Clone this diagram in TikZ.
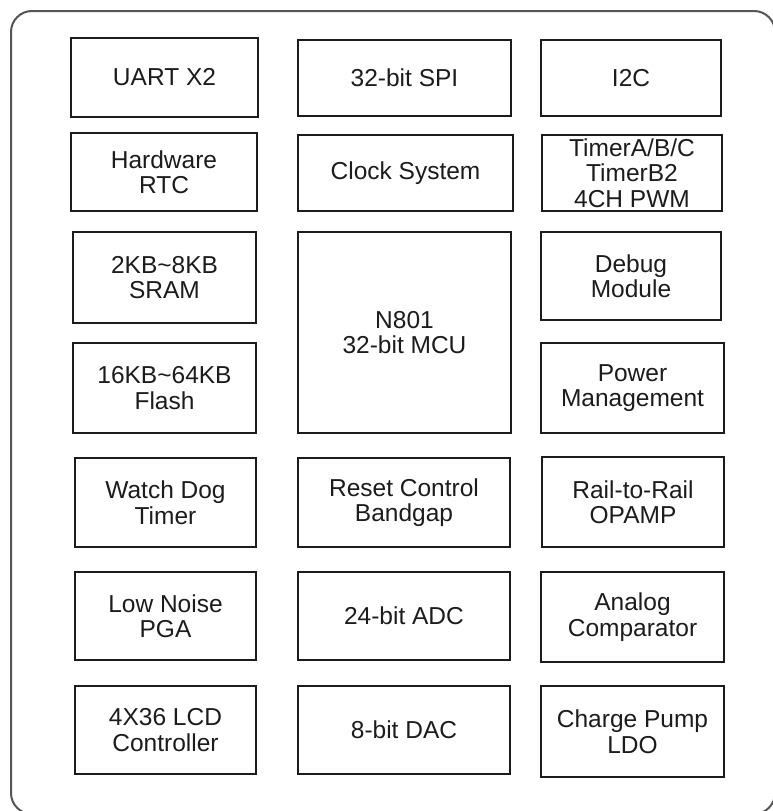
\documentclass[tikz,border=0pt]{standalone}
\usepackage{fontspec}
\setmainfont{Liberation Sans}
\definecolor{frame}{HTML}{555555}
\definecolor{ink}{HTML}{1C1C1C}
\begin{document}
\begin{tikzpicture}[x=1pt,y=-1pt,
  blk/.style={draw=ink, line width=1.4pt, rectangle, inner sep=0pt, align=center,
    text=ink, font=\fontsize{24.5}{25.5}\selectfont}]
\useasboundingbox (0,0) rectangle (773,811);
\fill[white] (0,0) rectangle (773,811);
\draw[frame, line width=2pt, rounded corners=21pt] (11,11) rectangle (775,814);
% column 1
\node[blk, minimum width=187pt, minimum height=79pt] (uart) at (164.5,77.5) {UART X2};
\node[blk, minimum width=186pt, minimum height=78pt] (rtc) at (164,172) {Hardware\\RTC};
\node[blk, minimum width=183pt, minimum height=91pt] (sram) at (164.5,277.5) {2KB\textasciitilde8KB\\SRAM};
\node[blk, minimum width=183pt, minimum height=90pt] (flash) at (164.5,388) {16KB\textasciitilde64KB\\Flash};
\node[blk, minimum width=181pt, minimum height=89pt] (wdt) at (165.5,502.5) {Watch Dog\\Timer};
\node[blk, minimum width=181pt, minimum height=88pt] (pga) at (165.5,616) {Low Noise\\PGA};
\node[blk, minimum width=181pt, minimum height=88pt] (lcd) at (165.5,730) {4X36 LCD\\Controller};
% column 2
\node[blk, minimum width=213pt, minimum height=76pt] (spi) at (404.5,78) {32-bit SPI};
\node[blk, minimum width=215pt, minimum height=76pt] (clk) at (405.5,173) {Clock System};
\node[blk, minimum width=213pt, minimum height=201pt] (mcu) at (404.5,332.5) {N801\\32-bit MCU};
\node[blk, minimum width=212pt, minimum height=89pt] (rst) at (404,502.5) {Reset Control\\Bandgap};
\node[blk, minimum width=212pt, minimum height=88pt] (adc) at (404,616) {24-bit ADC};
\node[blk, minimum width=212pt, minimum height=88pt] (dac) at (404,730) {8-bit DAC};
% column 3
\node[blk, minimum width=180pt, minimum height=76pt] (i2c) at (631,78) {I2C};
\node[blk, minimum width=180pt, minimum height=76pt] (tmr) at (632,173) {TimerA/B/C\\TimerB2\\4CH PWM};
\node[blk, minimum width=180pt, minimum height=88pt] (dbg) at (631,276) {Debug\\Module};
\node[blk, minimum width=183pt, minimum height=90pt] (pwr) at (632.5,388) {Power\\Management};
\node[blk, minimum width=182pt, minimum height=90pt] (opa) at (633,502) {Rail-to-Rail\\OPAMP};
\node[blk, minimum width=183pt, minimum height=90pt] (cmp) at (632.5,617) {Analog\\Comparator};
\node[blk, minimum width=183pt, minimum height=91pt] (ldo) at (632.5,731.5) {Charge Pump\\LDO};
\end{tikzpicture}
\end{document}
